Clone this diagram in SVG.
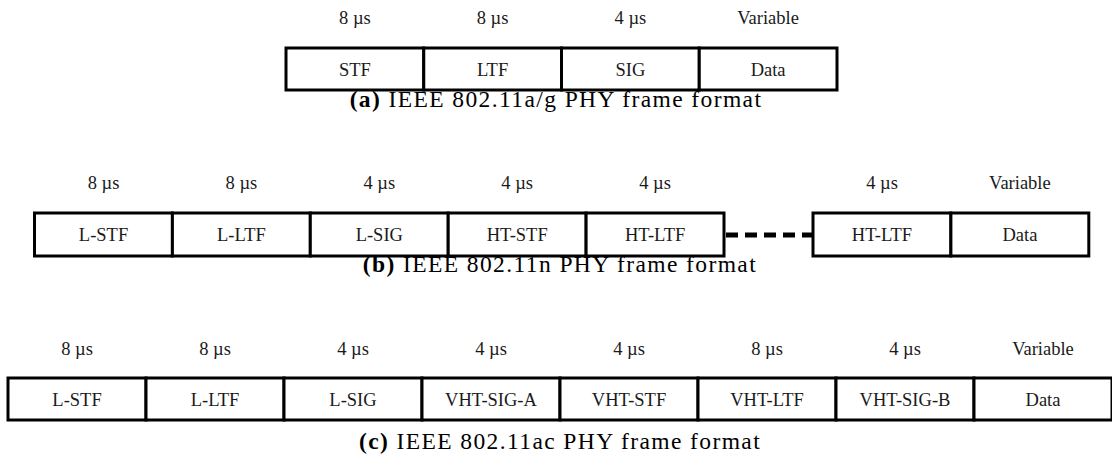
<svg xmlns="http://www.w3.org/2000/svg" width="1112" height="465" viewBox="0 0 1112 465">
<style>
.cell{fill:#fff;stroke:#000;stroke-width:3}
.lbl{font-family:"Liberation Serif","Times New Roman",serif;font-size:18.5px;fill:#1a1a1a;text-anchor:middle}
.cap{font-family:"Liberation Serif","Times New Roman",serif;font-size:23.5px;letter-spacing:1.4px;fill:#000;text-anchor:middle}
.b{font-weight:bold}
.dash{stroke:#000;stroke-width:5;stroke-dasharray:12 7;fill:none}
</style>
<rect width="1112" height="465" fill="#fff"/>

<!-- (a) -->
<g id="frame-a">
<g id="a-stf"><rect class="cell" x="286" y="48" width="137.75" height="42"/><text class="lbl" x="354.9" y="24">8 µs</text><text class="lbl" x="354.9" y="75.5">STF</text></g>
<g id="a-ltf"><rect class="cell" x="423.75" y="48" width="137.75" height="42"/><text class="lbl" x="492.6" y="24">8 µs</text><text class="lbl" x="492.6" y="75.5">LTF</text></g>
<g id="a-sig"><rect class="cell" x="561.5" y="48" width="137.75" height="42"/><text class="lbl" x="630.4" y="24">4 µs</text><text class="lbl" x="630.4" y="75.5">SIG</text></g>
<g id="a-data"><rect class="cell" x="699.25" y="48" width="137.75" height="42"/><text class="lbl" x="768.1" y="24">Variable</text><text class="lbl" x="768.1" y="75.5">Data</text></g>
<text class="cap" x="556" y="106.5"><tspan class="b">(a)</tspan> IEEE 802.11a/g PHY frame format</text>
</g>

<!-- (b) -->
<g id="frame-b">
<g id="b-lstf"><rect class="cell" x="34.5" y="213" width="137.9" height="43"/><text class="lbl" x="103.5" y="189">8 µs</text><text class="lbl" x="103.5" y="241">L-STF</text></g>
<g id="b-lltf"><rect class="cell" x="172.4" y="213" width="137.9" height="43"/><text class="lbl" x="241.4" y="189">8 µs</text><text class="lbl" x="241.4" y="241">L-LTF</text></g>
<g id="b-lsig"><rect class="cell" x="310.3" y="213" width="137.9" height="43"/><text class="lbl" x="379.3" y="189">4 µs</text><text class="lbl" x="379.3" y="241">L-SIG</text></g>
<g id="b-htstf"><rect class="cell" x="448.2" y="213" width="137.9" height="43"/><text class="lbl" x="517.2" y="189">4 µs</text><text class="lbl" x="517.2" y="241">HT-STF</text></g>
<g id="b-htltf1"><rect class="cell" x="586.1" y="213" width="137.9" height="43"/><text class="lbl" x="655.1" y="189">4 µs</text><text class="lbl" x="655.1" y="241">HT-LTF</text></g>
<g id="b-htltf2"><rect class="cell" x="813" y="213" width="137.9" height="43"/><text class="lbl" x="882" y="189">4 µs</text><text class="lbl" x="882" y="241">HT-LTF</text></g>
<g id="b-data"><rect class="cell" x="950.9" y="213" width="137.9" height="43"/><text class="lbl" x="1019.9" y="189">Variable</text><text class="lbl" x="1019.9" y="241">Data</text></g>
<text class="cap" x="560" y="271.5"><tspan class="b">(b)</tspan> IEEE 802.11n PHY frame format</text>
</g>

<!-- (c) -->
<g id="frame-c">
<g id="c-lstf"><rect class="cell" x="8" y="378" width="138" height="42"/><text class="lbl" x="77" y="355">8 µs</text><text class="lbl" x="77" y="405.5">L-STF</text></g>
<g id="c-lltf"><rect class="cell" x="146" y="378" width="138" height="42"/><text class="lbl" x="215" y="355">8 µs</text><text class="lbl" x="215" y="405.5">L-LTF</text></g>
<g id="c-lsig"><rect class="cell" x="284" y="378" width="138" height="42"/><text class="lbl" x="353" y="355">4 µs</text><text class="lbl" x="353" y="405.5">L-SIG</text></g>
<g id="c-vhtsiga"><rect class="cell" x="422" y="378" width="138" height="42"/><text class="lbl" x="491" y="355">4 µs</text><text class="lbl" x="491" y="405.5">VHT-SIG-A</text></g>
<g id="c-vhtstf"><rect class="cell" x="560" y="378" width="138" height="42"/><text class="lbl" x="629" y="355">4 µs</text><text class="lbl" x="629" y="405.5">VHT-STF</text></g>
<g id="c-vhtltf"><rect class="cell" x="698" y="378" width="138" height="42"/><text class="lbl" x="767" y="355">8 µs</text><text class="lbl" x="767" y="405.5">VHT-LTF</text></g>
<g id="c-vhtsigb"><rect class="cell" x="836" y="378" width="138" height="42"/><text class="lbl" x="905" y="355">4 µs</text><text class="lbl" x="905" y="405.5">VHT-SIG-B</text></g>
<g id="c-data"><rect class="cell" x="974" y="378" width="138" height="42"/><text class="lbl" x="1043" y="355">Variable</text><text class="lbl" x="1043" y="405.5">Data</text></g>
<text class="cap" x="560" y="449"><tspan class="b">(c)</tspan> IEEE 802.11ac PHY frame format</text>
</g>

<g id="connectors">
<line class="dash" x1="726" y1="235" x2="812" y2="235"/>
</g>
</svg>
